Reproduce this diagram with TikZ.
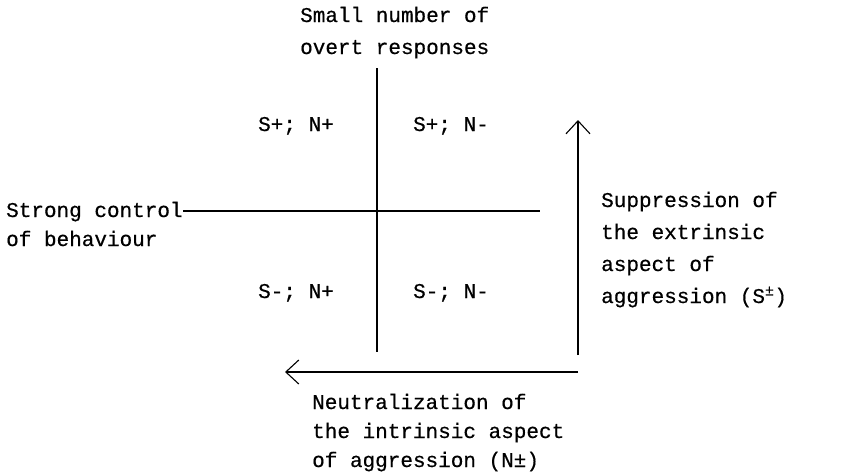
\documentclass[tikz,border=0pt]{standalone}
\usepackage{fontspec}
\newfontfamily\typer[FakeBold=0.5]{Liberation Mono}
\usetikzlibrary{arrows.meta}

\begin{document}
\begin{tikzpicture}[x=1pt, y=-1pt,
      lbl/.style={font=\typer\fontsize{21}{32}\selectfont, anchor=base west,
        inner sep=0pt, align=left},
      tight/.style={font=\typer\fontsize{21}{29}\selectfont},
      axis/.style={line width=1.1pt},
      arrow/.style={-{Straight Barb[length=13pt, width=24pt]}, line width=1.1pt}]
    \useasboundingbox (0,0) rectangle (844,475);
    % axis labels (base = last line)
    \node[lbl] (small) at (300,54) {Small number of\\overt responses};
    \node[lbl, tight] (strong) at (6,246) {Strong control\\of behaviour};
    % quadrant entries
    \node[lbl] (spnp) at (258,131) {S+; N+};
    \node[lbl] (spnm) at (413,131) {S+; N-};
    \node[lbl] (smnp) at (258,298) {S-; N+};
    \node[lbl] (smnm) at (413,298) {S-; N-};
    % the cross
    \coordinate (vtop) at (377,68);
    \coordinate (vbot) at (377,352);
    \coordinate (hstart) at (183,211);
    \coordinate (hend) at (540,211);
    \draw[axis] (vtop) -- (vbot);
    \draw[axis] (hstart) -- (hend);
    % suppression arrow
    \coordinate (suptail) at (578,355);
    \coordinate (suphead) at (578,120);
    \draw[arrow] (suptail) -- (suphead);
    \node[lbl] (supp) at (601,303)
      {Suppression of\\the extrinsic\\aspect of\\aggression (S\textsuperscript{±})};
    % neutralization arrow
    \coordinate (neutail) at (578,372);
    \coordinate (neuhead) at (285,372);
    \draw[arrow] (neutail) -- (neuhead);
    \node[lbl, tight] (neut) at (312,467)
      {Neutralization of\\the intrinsic aspect\\of aggression (N±)};
  \end{tikzpicture}
\end{document}
